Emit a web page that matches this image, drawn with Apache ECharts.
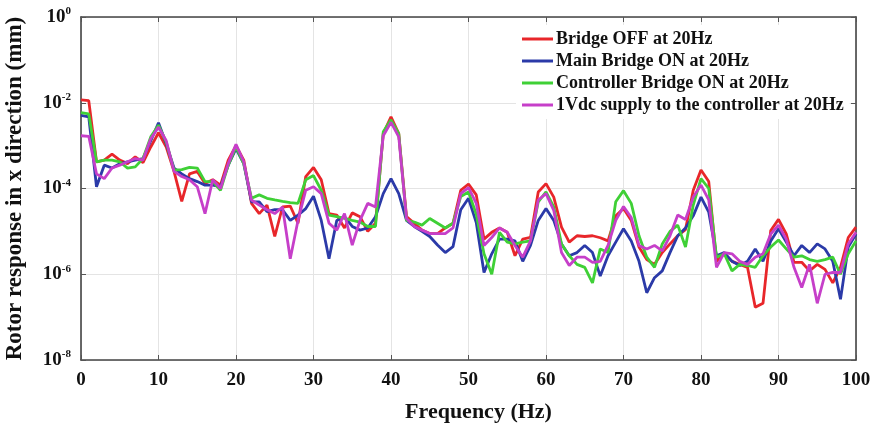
<!DOCTYPE html>
<html>
<head>
<meta charset="utf-8">
<script src="https://cdn.jsdelivr.net/npm/echarts@6/dist/echarts.min.js"></script>
<style>
html, body { margin: 0; padding: 0; background: #fff; }
#chart { width: 878px; height: 429px; }
</style>
</head>
<body>
<div id="chart"></div>
<script>
var freq = [0,1,2,3,4,5,6,7,8,9,10,11,12,13,14,15,16,17,18,19,20,21,22,23,24,25,26,27,28,29,30,31,32,33,34,35,36,37,38,39,40,41,42,43,44,45,46,47,48,49,50,51,52,53,54,55,56,57,58,59,60,61,62,63,64,65,66,67,68,69,70,71,72,73,74,75,76,77,78,79,80,81,82,83,84,85,86,87,88,89,90,91,92,93,94,95,96,97,98,99,100];

var bridgeOff = [1.17e-2,1.12e-2,4.2e-4,4.6e-4,6.3e-4,4.6e-4,3.8e-4,5.5e-4,4.0e-4,9.3e-4,
  2.0e-3,9.3e-4,2.5e-4,5.0e-5,2.2e-4,2.5e-4,1.3e-4,1.6e-4,1.2e-4,4.6e-4,
  1.0e-3,4.6e-4,4.5e-5,2.6e-5,4.1e-5,7.6e-6,3.7e-5,3.9e-5,1.55e-5,1.9e-4,
  3.1e-4,1.6e-4,2.6e-5,2.4e-5,1.2e-5,2.7e-5,2.2e-5,1.0e-5,1.55e-5,1.9e-3,
  4.7e-3,1.9e-3,2.2e-5,1.55e-5,1.07e-5,8.9e-6,8.9e-6,1.2e-5,1.55e-5,9.1e-5,
  1.26e-4,7.1e-5,6.6e-6,9.5e-6,1.2e-5,9.5e-6,2.7e-6,6.6e-6,7.2e-6,8.3e-5,
  1.3e-4,6.3e-5,1.26e-5,5.6e-6,7.9e-6,7.6e-6,7.9e-6,7.1e-6,6.0e-6,2.3e-5,
  3.4e-5,1.8e-5,4.3e-6,2.2e-6,1.7e-6,3.2e-6,5.1e-6,7.9e-6,1.1e-5,9.1e-5,
  2.7e-4,1.45e-4,2.0e-6,3.0e-6,2.0e-6,1.7e-6,1.45e-6,1.7e-7,2.1e-7,1.05e-5,
  1.9e-5,8.7e-6,1.9e-6,1.9e-6,1.2e-6,1.7e-6,1.3e-6,6.3e-7,1.45e-6,7.2e-6,
  1.26e-5];

var mainBridgeOn = [5.1e-3,4.7e-3,1.1e-4,3.5e-4,3.0e-4,3.8e-4,4.2e-4,4.6e-4,5.0e-4,1.3e-3,
  3.4e-3,1.1e-3,3.0e-4,2.2e-4,1.7e-4,1.45e-4,1.2e-4,1.2e-4,1.1e-4,3.5e-4,
  8.5e-4,3.8e-4,4.9e-5,4.9e-5,2.9e-5,3.2e-5,3.2e-5,1.8e-5,2.4e-5,3.4e-5,
  6.6e-5,1.8e-5,2.3e-6,1.8e-5,2.2e-5,1.3e-5,1.07e-5,1.2e-5,2.2e-5,7.6e-5,
  1.7e-4,7.6e-5,1.8e-5,1.3e-5,1.0e-5,7.6e-6,4.8e-6,3.2e-6,4.4e-6,3.2e-5,
  5.9e-5,1.6e-5,1.1e-6,3.0e-6,6.6e-6,6.6e-6,6.0e-6,2.0e-6,4.7e-6,1.8e-5,
  3.4e-5,1.8e-5,5.1e-6,2.7e-6,3.2e-6,4.7e-6,3.2e-6,9.1e-7,2.7e-6,5.6e-6,
  1.15e-5,6.0e-6,2.0e-6,3.7e-7,8.3e-7,1.2e-6,3.2e-6,7.9e-6,1.2e-5,2.3e-5,
  6.3e-5,2.8e-5,2.7e-6,3.2e-6,2.0e-6,1.6e-6,2.0e-6,3.9e-6,2.0e-6,6.0e-6,
  1.15e-5,5.6e-6,2.7e-6,4.7e-6,3.2e-6,5.1e-6,3.9e-6,2.0e-6,2.6e-7,4.3e-6,
  8.7e-6];

var controllerBridgeOn = [5.9e-3,5.5e-3,4.2e-4,4.6e-4,4.6e-4,4.2e-4,3.0e-4,3.2e-4,5.0e-4,1.6e-3,
  3.0e-3,1.2e-3,2.7e-4,2.75e-4,3.1e-4,3.0e-4,1.45e-4,1.45e-4,9.1e-5,3.5e-4,
  9.3e-4,3.8e-4,5.9e-5,7.1e-5,5.9e-5,5.4e-5,5.0e-5,4.7e-5,4.5e-5,1.6e-4,
  2.0e-4,9.1e-5,2.4e-5,2.2e-5,2.0e-5,1.8e-5,1.65e-5,1.3e-5,1.3e-5,2.1e-3,
  4.0e-3,1.9e-3,1.8e-5,1.65e-5,1.4e-5,2.0e-5,1.55e-5,1.2e-5,1.55e-5,6.5e-5,
  8.3e-5,2.5e-5,3.0e-6,1.0e-6,9.5e-6,5.6e-6,5.1e-6,5.6e-6,6.0e-6,4.9e-5,
  8.3e-5,3.7e-5,5.1e-6,2.7e-6,1.7e-6,1.45e-6,6.3e-7,3.9e-6,3.2e-6,4.9e-5,
  8.9e-5,4.5e-5,7.9e-6,2.5e-6,1.45e-6,5.1e-6,1.0e-5,1.4e-5,4.3e-6,4.1e-5,
  1.7e-4,1.0e-4,2.5e-6,3.0e-6,1.2e-6,1.7e-6,1.6e-6,1.45e-6,2.7e-6,4.3e-6,
  6.3e-6,3.9e-6,2.5e-6,2.7e-6,2.2e-6,2.0e-6,2.2e-6,2.5e-6,1.0e-6,3.0e-6,
  6.0e-6];

var vdcSupply = [1.7e-3,1.65e-3,2.2e-4,1.7e-4,3.0e-4,3.5e-4,4.2e-4,5.0e-4,4.6e-4,1.45e-3,
  2.7e-3,1.3e-3,2.5e-4,1.9e-4,1.6e-4,1.1e-4,2.6e-5,1.6e-4,1.0e-4,3.8e-4,
  1.07e-3,4.2e-4,5.4e-5,4.1e-5,3.2e-5,2.6e-5,3.7e-5,2.3e-6,1.8e-5,9.1e-5,
  1.1e-4,7.6e-5,1.55e-5,1.07e-5,2.6e-5,4.8e-6,1.8e-5,4.5e-5,3.7e-5,1.7e-3,
  3.5e-3,1.6e-3,2.0e-5,1.3e-5,1.07e-5,8.9e-6,8.9e-6,8.9e-6,1.2e-5,7.6e-5,
  1.05e-4,4.5e-5,4.7e-6,7.2e-6,1.2e-5,9.5e-6,4.7e-6,2.5e-6,6.0e-6,5.4e-5,
  7.6e-5,3.1e-5,3.2e-6,1.6e-6,2.5e-6,2.5e-6,1.9e-6,2.0e-6,4.7e-6,1.8e-5,
  3.8e-5,2.1e-5,4.7e-6,3.9e-6,4.7e-6,3.5e-6,7.9e-6,2.4e-5,1.9e-5,6.3e-5,
  1.2e-4,5.4e-5,1.45e-6,3.2e-6,3.0e-6,2.0e-6,1.7e-6,2.5e-6,3.0e-6,8.7e-6,
  1.4e-5,6.6e-6,1.45e-6,4.9e-7,1.7e-6,2.1e-7,1.0e-6,1.1e-6,1.1e-6,5.1e-6,
  9.5e-6];

var seriesNames = ['Bridge OFF at 20Hz', 'Main Bridge ON at 20Hz', 'Controller Bridge ON at 20Hz', '1Vdc supply to the controller at 20Hz'];
var seriesColors = ['#e8262a', '#2b3aa8', '#3fd036', '#c63fc9'];
var seriesValues = [bridgeOff, mainBridgeOn, controllerBridgeOn, vdcSupply];

var font = 'Liberation Serif';

function pairs(vals) {
  return freq.map(function (f, i) { return [f, vals[i]]; });
}

var series = seriesValues.map(function (vals, k) {
  return {
    name: seriesNames[k],
    type: 'line',
    data: pairs(vals),
    showSymbol: false,
    symbol: 'none',
    lineStyle: { width: 2.8, color: seriesColors[k] },
    itemStyle: { color: seriesColors[k] },
    z: 3 + k
  };
});

var tickStyle = { show: true, inside: true, length: 5, lineStyle: { color: '#555', width: 1 } };
var gridLine = { show: true, lineStyle: { color: '#e4e4e4', width: 1 } };
var frameLine = { show: true, onZero: false, lineStyle: { color: '#444', width: 1.6 } };

var option = {
  animation: false,
  backgroundColor: '#fff',
  grid: { left: 81, right: 22, top: 17, bottom: 69, containLabel: false, outerBoundsMode: 'none' },
  legend: {
    orient: 'vertical',
    left: 516,
    top: 25,
    icon: 'rect',
    itemWidth: 31,
    itemHeight: 3,
    itemGap: 4,
    padding: [5, 6, 5, 6],
    backgroundColor: '#fff',
    data: seriesNames,
    textStyle: { fontFamily: font, fontWeight: 'bold', fontSize: 18, lineHeight: 18, color: '#111', padding: [0, 0, 0, -2] }
  },
  xAxis: [{
    type: 'value',
    min: 0, max: 100, interval: 10,
    name: 'Frequency (Hz)',
    nameLocation: 'middle',
    nameGap: 41,
    nameTextStyle: { fontFamily: font, fontWeight: 'bold', fontSize: 22, color: '#111', padding: [0, 0, 0, 20] },
    axisLine: frameLine,
    axisTick: tickStyle,
    splitLine: gridLine,
    axisLabel: { fontFamily: font, fontWeight: 'bold', fontSize: 19, color: '#111', margin: 11 }
  }, {
    type: 'value', position: 'top',
    min: 0, max: 100, interval: 10,
    axisLine: frameLine, axisTick: tickStyle,
    splitLine: { show: false }, axisLabel: { show: false }
  }],
  yAxis: [{
    type: 'log', logBase: 10,
    min: 1e-8, max: 1, interval: 2,
    name: 'Rotor response in x direction (mm)',
    nameLocation: 'middle',
    nameGap: 54,
    nameTextStyle: { fontFamily: font, fontWeight: 'bold', fontSize: 23, color: '#111' },
    axisLine: frameLine,
    axisTick: tickStyle,
    splitLine: gridLine,
    axisLabel: {
      margin: 10,
      formatter: function (v) {
        var e = Math.round(Math.log10(v));
        return '{b|10}{s|' + e + '}';
      },
      rich: {
        b: { fontFamily: font, fontWeight: 'bold', fontSize: 19, color: '#111' },
        s: { fontFamily: font, fontWeight: 'bold', fontSize: 11, color: '#111', padding: [0, 0, 11, 0] }
      }
    }
  }, {
    type: 'log', logBase: 10, position: 'right',
    min: 1e-8, max: 1, interval: 2,
    axisLine: frameLine, axisTick: tickStyle,
    splitLine: { show: false }, axisLabel: { show: false }
  }],
  series: series
};

var chart = echarts.init(document.getElementById('chart'));
chart.setOption(option);
</script>
</body>
</html>
